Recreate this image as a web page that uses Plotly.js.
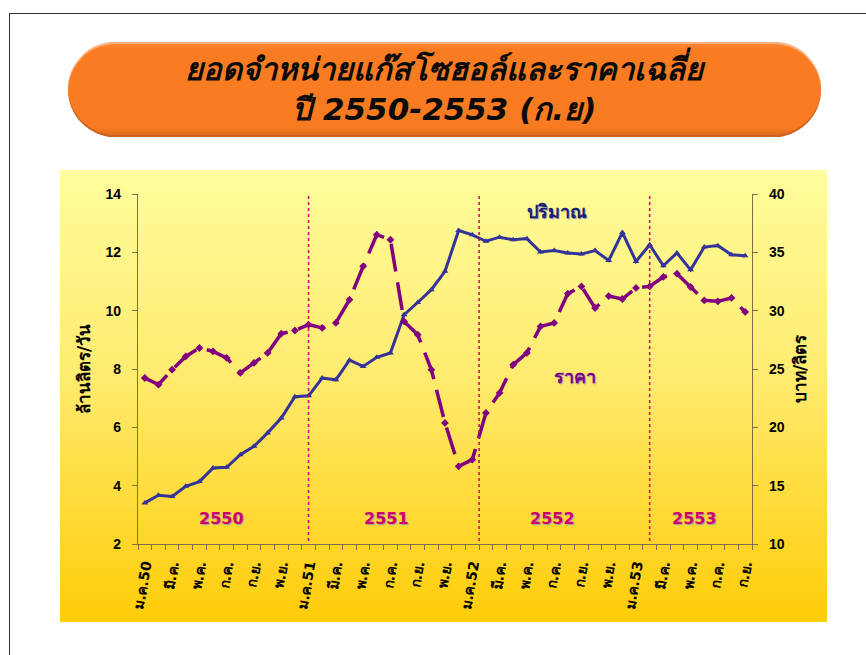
<!DOCTYPE html>
<html>
<head>
<meta charset="utf-8">
<script src="https://cdn.plot.ly/plotly-3.0.1.min.js"></script>
<style>
  html, body { margin:0; padding:0; background:#ffffff; }
  #wrap { position:relative; width:866px; height:655px; overflow:hidden; background:#fff; }
  #frame { position:absolute; left:9px; top:13px; width:870px; height:660px;
           border-left:1.5px solid #333; border-top:1.5px solid #333; }
  #titlebox { position:absolute; left:68px; top:42px; width:753px; height:95px; border-radius:48px;
              background:linear-gradient(to bottom, #FA8A3A 0%, #F97C22 8%, #F97B21 90%, #D86A1E 100%);
              box-shadow: inset 0 2px 0 #FBB280, inset 0 -2px 0 #C9631F; }
  #plotbg { position:absolute; left:60px; top:170px; width:767px; height:452px;
            background:linear-gradient(to bottom, #FFFD9C 0%, #FFEB70 45%, #FFCC08 100%); }
  #chart { position:absolute; left:0; top:0; width:866px; height:655px; }
</style>
</head>
<body>
<div id="wrap">
  <div id="frame"></div>
  <div id="titlebox"></div>
  <div id="plotbg"></div>
  <div id="chart"></div>
</div>
<script>
// Month categories: ม.ค. 2550 (index 0) to ก.ย. 2553 (index 44)
const months = [
  "ม.ค.50","ก.พ.","มี.ค.","เม.ย.","พ.ค.","มิ.ย.","ก.ค.","ส.ค.","ก.ย.","ต.ค.","พ.ย.","ธ.ค.",
  "ม.ค.51","ก.พ.","มี.ค.","เม.ย.","พ.ค.","มิ.ย.","ก.ค.","ส.ค.","ก.ย.","ต.ค.","พ.ย.","ธ.ค.",
  "ม.ค.52","ก.พ.","มี.ค.","เม.ย.","พ.ค.","มิ.ย.","ก.ค.","ส.ค.","ก.ย.","ต.ค.","พ.ย.","ธ.ค.",
  "ม.ค.53","ก.พ.","มี.ค.","เม.ย.","พ.ค.","มิ.ย.","ก.ค.","ส.ค.","ก.ย."
];
// Volume (million litres/day) - left axis
const volume = [
  3.41, 3.67, 3.63, 3.98, 4.14, 4.61, 4.63, 5.06, 5.35, 5.81, 6.32, 7.05,
  7.08, 7.69, 7.63, 8.30, 8.09, 8.40, 8.55, 9.86, 10.28, 10.72, 11.35, 12.75,
  12.60, 12.38, 12.52, 12.43, 12.47, 12.01, 12.06, 11.98, 11.94, 12.06, 11.72, 12.68,
  11.69, 12.26, 11.54, 11.98, 11.40, 12.18, 12.23, 11.92, 11.88
];
// Average price (baht/litre) - right axis
const price = [
  24.23, 23.66, 24.94, 26.08, 26.80, 26.51, 25.95, 24.66, 25.52, 26.38, 28.03, 28.30,
  28.80, 28.52, 28.95, 30.94, 33.80, 36.51, 36.08, 29.08, 27.94, 24.94, 20.38, 16.66,
  17.23, 21.23, 22.95, 25.37, 26.38, 28.65, 28.95, 31.46, 32.08, 30.23, 31.25, 31.00,
  31.95, 32.08, 32.89, 33.17, 32.03, 30.88, 30.80, 31.09, 29.89
];
const yearLabels = ["2550", "2551", "2552", "2553"];
const yearDividerAt = [12, 24.5, 37];

const idx = months.map((_, i) => i);
const tickIdx = idx.filter(i => i % 2 === 0);
const tickText = tickIdx.map(i => months[i]);
const boundaries = idx.map(i => i - 0.5).concat([months.length - 0.5]);

const traces = [
  {
    x: idx, y: volume, name: "ปริมาณ", type: "scatter", mode: "lines+markers",
    line: { color: "#333399", width: 3 },
    marker: { symbol: "triangle-up", size: 6, color: "#333399" },
    yaxis: "y"
  },
  {
    x: idx, y: price, name: "ราคา", type: "scatter", mode: "lines+markers",
    line: { color: "#800080", width: 3.5, dash: "28px,11px" },
    marker: { symbol: "diamond", size: 6, color: "#800080" },
    yaxis: "y2"
  }
];

const tickFont = { family: "Liberation Sans, Arial, sans-serif", size: 14, color: "#000", weight: "bold" };
const axisLine = "#7d6e45";

const shapes = yearDividerAt.map(x => ({
  type: "line", xref: "x", yref: "y", x0: x, x1: x, y0: 1.9, y1: 14.65,
  line: { color: "#D4006A", width: 1.5, dash: "dot" }, layer: "above"
}));

const yearX = [5.6, 17.7, 29.9, 40.3];
const annotations = yearLabels.map((t, i) => ({
  x: yearX[i], y: 2.87, xref: "x", yref: "y", text: "<b>" + t + "</b>", showarrow: false,
  font: { family: "DejaVu Sans, Verdana, sans-serif", size: 16, color: "#CC0066", shadow: "1px 1px 1px #9a9ab8" }
}));
annotations.push({
  x: 30.2, y: 13.39, xref: "x", yref: "y", text: "<b>ปริมาณ</b>", showarrow: false,
  font: { family: "DejaVu Sans, sans-serif", size: 18, color: "#1a1f6e", shadow: "1px 1px 1px #9a9ab8" }
});
annotations.push({
  x: 31.5, y: 7.74, xref: "x", yref: "y", text: "<b>ราคา</b>", showarrow: false,
  font: { family: "DejaVu Sans, sans-serif", size: 18, color: "#800080", shadow: "1px 1px 1px #9a9ab8" }
});

const layout = {
  width: 866, height: 655,
  paper_bgcolor: "rgba(0,0,0,0)", plot_bgcolor: "rgba(0,0,0,0)",
  showlegend: false,
  margin: { l: 138, r: 114, t: 194, b: 111, pad: 0 },
  title: {
    text: "<b><i>ยอดจำหน่ายแก๊สโซฮอล์และราคาเฉลี่ย<br>ปี 2550-2553 (ก.ย)</i></b>",
    x: 0.513, xanchor: "center", xref: "container",
    y: 1 - 80 / 655, yanchor: "middle", yref: "container",
    font: { family: "DejaVu Sans, Tahoma, sans-serif", size: 31, color: "#0b0b0b" }
  },
  xaxis: {
    range: [-0.5, months.length - 0.5],
    tickmode: "array", tickvals: tickIdx, ticktext: tickText,
    tickangle: -80, ticks: "", ticklabelstandoff: 6,
    tickfont: { family: "DejaVu Sans, sans-serif", size: 14, color: "#000", weight: "bold" },
    minor: { tickmode: "array", tickvals: boundaries, ticks: "outside", ticklen: 5, tickcolor: axisLine, tickwidth: 1, showgrid: false },
    showline: true, linecolor: axisLine, linewidth: 1.2, showgrid: false, zeroline: false, fixedrange: true
  },
  yaxis: {
    range: [2, 14], tickmode: "array", tickvals: [2, 4, 6, 8, 10, 12, 14],
    ticks: "outside", ticklen: 5, tickcolor: axisLine, ticklabelstandoff: 8,
    tickfont: tickFont,
    showline: true, linecolor: axisLine, linewidth: 1.2, showgrid: false, zeroline: false,
    title: { text: "ล้านลิตร/วัน", standoff: 10,
             font: { family: "DejaVu Sans, sans-serif", size: 17, color: "#000", weight: "bold" } }
  },
  yaxis2: {
    range: [10, 40], overlaying: "y", side: "right", anchor: "x",
    tickmode: "array", tickvals: [10, 15, 20, 25, 30, 35, 40],
    ticks: "outside", ticklen: 5, tickcolor: axisLine, ticklabelstandoff: 8,
    tickfont: tickFont,
    showline: true, linecolor: axisLine, linewidth: 1.2, showgrid: false, zeroline: false,
    title: { text: "บาท/ลิตร", standoff: 10,
             font: { family: "DejaVu Sans, sans-serif", size: 17, color: "#000", weight: "bold" } }
  },
  shapes: shapes,
  annotations: annotations
};

Plotly.newPlot("chart", traces, layout, { staticPlot: true, displayModeBar: false });
</script>
</body>
</html>
